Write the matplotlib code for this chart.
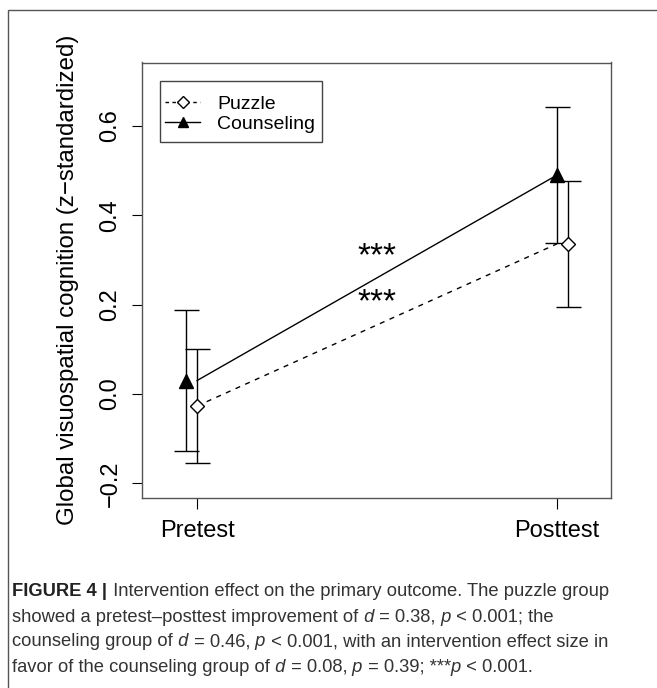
import matplotlib
matplotlib.use("Agg")
import matplotlib.pyplot as plt
from matplotlib.lines import Line2D
from matplotlib.patches import Rectangle

# Data
times = ["Pretest", "Posttest"]
x_pos = [1, 2]
puzzle_mean = [-0.027, 0.336]
puzzle_err = [0.127, 0.141]
counsel_mean = [0.03, 0.49]
counsel_err = [0.157, 0.153]
# markers are slightly shifted apart so the bars do not overlap
puzzle_shift = [0.0, 0.03]
counsel_shift = [-0.03, 0.0]
star_x = 1.5
star_y = [0.287, 0.184]

caption_lines = [
    [("FIGURE 4 |", "bold"), (" Intervention effect on the primary outcome. The puzzle group", "normal")],
    [("showed a pretest\u2013posttest improvement of", "normal"), (" d", "italic"),
     (" = 0.38,", "normal"), (" p", "italic"), (" < 0.001; the", "normal")],
    [("counseling group of", "normal"), (" d", "italic"), (" = 0.46,", "normal"), (" p", "italic"),
     (" < 0.001, with an intervention effect size in", "normal")],
    [("favor of the counseling group of", "normal"), (" d", "italic"), (" = 0.08,", "normal"),
     (" p", "italic"), (" = 0.39; ***", "normal"), ("p", "italic"), (" < 0.001.", "normal")],
]

plt.rcParams["font.family"] = ["Liberation Sans", "DejaVu Sans"]
W, H = 657, 688
fig = plt.figure(figsize=(W / 100, H / 100), dpi=100)

# outer frame of the figure panel
fig.patches.append(Rectangle((8 / W, -0.2), 1.2, 1.2 - 10 / H, transform=fig.transFigure,
                             fill=False, edgecolor="#555555", linewidth=1.0))

ax_l, ax_r, ax_t, ax_b = 142, 611, 62.5, 498
ax = fig.add_axes([ax_l / W, 1 - ax_b / H, (ax_r - ax_l) / W, (ax_b - ax_t) / H])


def axfrac(xp, yp):
    return (xp - ax_l) / (ax_r - ax_l), (ax_b - yp) / (ax_b - ax_t)


# lines between time points
ax.plot(x_pos, counsel_mean, color="black", linewidth=1.0, zorder=2)
ax.plot(x_pos, puzzle_mean, color="black", linewidth=1.0, linestyle=(0, (3.6, 4.0)), zorder=2)

cx = [x + s for x, s in zip(x_pos, counsel_shift)]
px = [x + s for x, s in zip(x_pos, puzzle_shift)]
ax.errorbar(cx, counsel_mean, yerr=counsel_err, fmt="none", ecolor="black", elinewidth=1.0,
            capsize=9, capthick=1.0, zorder=3)
ax.errorbar(px, puzzle_mean, yerr=puzzle_err, fmt="none", ecolor="black", elinewidth=1.0,
            capsize=9, capthick=1.0, zorder=3)
ax.plot(cx, counsel_mean, linestyle="none", marker="^", markersize=9.5, color="black", zorder=4)
ax.plot(px, puzzle_mean, linestyle="none", marker="D", markersize=7, markerfacecolor="white",
        markeredgecolor="black", markeredgewidth=1.0, zorder=4)

for y in star_y:
    ax.text(star_x, y, "***", ha="center", va="baseline", fontsize=24)

ax.set_xlim(0.847, 2.15)
ax.set_ylim(-0.233, 0.742)
ax.set_xticks(x_pos)
ax.set_xticklabels(times)
ax.set_yticks([-0.2, 0.0, 0.2, 0.4, 0.6])
ax.set_yticklabels(["\u22120.2", "0.0", "0.2", "0.4", "0.6"])
ax.tick_params(axis="y", labelrotation=90, length=7.2, pad=7.5, labelsize=17, width=0.8)
ax.tick_params(axis="x", length=8, pad=8, labelsize=17, width=0.8)
for lab in ax.get_yticklabels():
    lab.set_va("center")
for sp in ax.spines.values():
    sp.set_color("#555555")
    sp.set_linewidth(1.0)

ax.set_ylabel("Global visuospatial cognition (z\u2212standardized)", fontsize=17.3)
ax.yaxis.set_label_coords(-0.135, 0.5)

# legend without its own frame; the box is drawn separately to match R's spacing
handles = [
    Line2D([], [], color="black", linewidth=1.0, linestyle=(0, (2.5, 2.5)), marker="D",
           markersize=6, markerfacecolor="white", markeredgecolor="black"),
    Line2D([], [], color="black", linewidth=1.0, marker="^", markersize=7),
]
leg = ax.legend(handles, ["Puzzle", "Counseling"], loc="upper left",
                bbox_to_anchor=axfrac(165, 95.5), fontsize=14, frameon=False,
                borderaxespad=0, borderpad=0, handlelength=1.8, handletextpad=0.9,
                labelspacing=0.1)
x0, y0 = axfrac(160, 142)
x1, y1 = axfrac(322, 81)
ax.add_patch(Rectangle((x0, y0), x1 - x0, y1 - y0, transform=ax.transAxes, fill=False,
                       edgecolor="#444444", linewidth=1.0, zorder=5))

# caption, drawn piece by piece so italics and bold sit inline
renderer = fig.canvas.get_renderer()
cap_family = ["Liberation Sans", "DejaVu Sans"]


def draw_caption_line(parts, yy, size):
    x_px = 12.5
    texts = []
    for txt, style in parts:
        weight = "bold" if style == "bold" else "normal"
        fstyle = "italic" if style == "italic" else "normal"
        color = "#222222" if style == "bold" else "#333333"
        t = fig.text(x_px / W, 1 - yy / H, txt, fontsize=size, family=cap_family,
                     fontweight=weight, fontstyle=fstyle, color=color, va="center", ha="left")
        x_px = t.get_window_extent(renderer).x1
        texts.append(t)
    return x_px, texts


# the original uses a condensed face; fit the widest line to the same span instead
end3, tmp = draw_caption_line(caption_lines[2], 642, 12.6)
for t in tmp:
    t.remove()
cap_size = 12.6 * (607 - 12.5) / (end3 - 12.5)

line_y = [592, 617, 642, 667]
for parts, yy in zip(caption_lines, line_y):
    draw_caption_line(parts, yy, cap_size)

fig.savefig("out.png", dpi=100)
